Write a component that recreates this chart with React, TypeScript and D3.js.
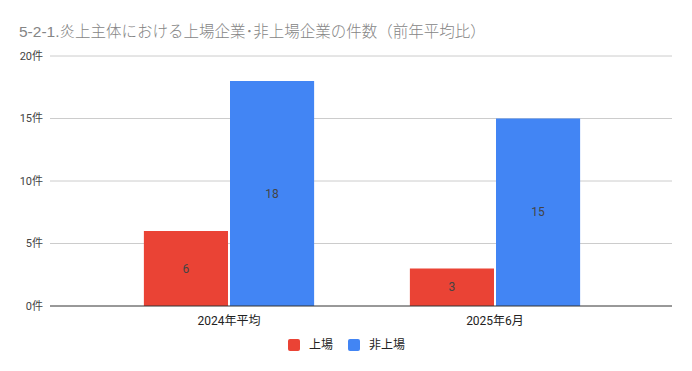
import React from "react";
import * as d3 from "d3";

const categories = ["2024年平均", "2025年6月"];
const seriesNames = ["上場", "非上場"];
const listedValues = [6, 3];
const unlistedValues = [18, 15];
const yTicks = [0, 5, 10, 15, 20];
const colors = ["#EA4335", "#4285F4"];
const title = "5-2-1.炎上主体における上場企業･非上場企業の件数（前年平均比）";

const W = 692;
const H = 371;
const FONT = "Roboto, 'Noto Sans CJK JP', sans-serif";
const TITLE_FONT = "'Liberation Sans', 'Noto Sans CJK JP', sans-serif";

export default function App() {
  const y = d3.scaleLinear().domain([0, 20]).range([306, 56]);
  const x0 = d3
    .scaleBand<string>()
    .domain(categories)
    .range([96, 628])
    .paddingInner(0.36)
    .paddingOuter(0.18);
  const x1 = d3
    .scaleBand<string>()
    .domain(seriesNames)
    .range([0, x0.bandwidth()])
    .paddingInner(0.0233)
    .paddingOuter(0);
  const series = [listedValues, unlistedValues];

  return (
    <svg
      width={W}
      height={H}
      style={{ position: "absolute", left: 0, top: 0, background: "#fff" }}
      fontFamily={FONT}
    >
      <rect width={W} height={H} fill="#fff" />
      <text
        x={19}
        y={37}
        fontSize={15.5}
        fontWeight={300}
        fill="#858585"
        fontFamily={TITLE_FONT}
      >
        {title}
      </text>
      {yTicks.map((t) => (
        <g key={t}>
          {t !== 0 && (
            <line x1={50} x2={672} y1={y(t)} y2={y(t)} stroke="#cccccc" strokeWidth={1} />
          )}
          <text
            x={43}
            y={y(t)}
            dy="0.35em"
            textAnchor="end"
            fontSize={11}
            fill="#444"
          >
            {t}件
          </text>
        </g>
      ))}
      {categories.map((c, ci) => (
        <g key={c} transform={`translate(${x0(c)},0)`}>
          {seriesNames.map((s, si) => {
            const v = series[si][ci];
            const bx = x1(s)!;
            return (
              <g key={s}>
                <rect
                  x={bx}
                  y={y(v)}
                  width={x1.bandwidth()}
                  height={y(0) - y(v)}
                  fill={colors[si]}
                />
                <text
                  x={bx + x1.bandwidth() / 2}
                  y={(y(v) + y(0)) / 2}
                  dy="0.35em"
                  textAnchor="middle"
                  fontSize={12}
                  fill="#444"
                >
                  {v}
                </text>
              </g>
            );
          })}
          <text
            x={x0.bandwidth() / 2}
            y={321}
            dy="0.35em"
            textAnchor="middle"
            fontSize={12}
            fill="#222"
          >
            {c}
          </text>
        </g>
      ))}
      <line x1={50} x2={672} y1={y(0)} y2={y(0)} stroke="#333" strokeWidth={1} />
      {seriesNames.map((s, i) => {
        const lx = [288, 348][i];
        return (
          <g key={s}>
            <rect x={lx} y={339} width={12} height={12} rx={2} fill={colors[i]} />
            <text x={lx + 21} y={345} dy="0.35em" fontSize={12} fill="#222">
              {s}
            </text>
          </g>
        );
      })}
    </svg>
  );
}
